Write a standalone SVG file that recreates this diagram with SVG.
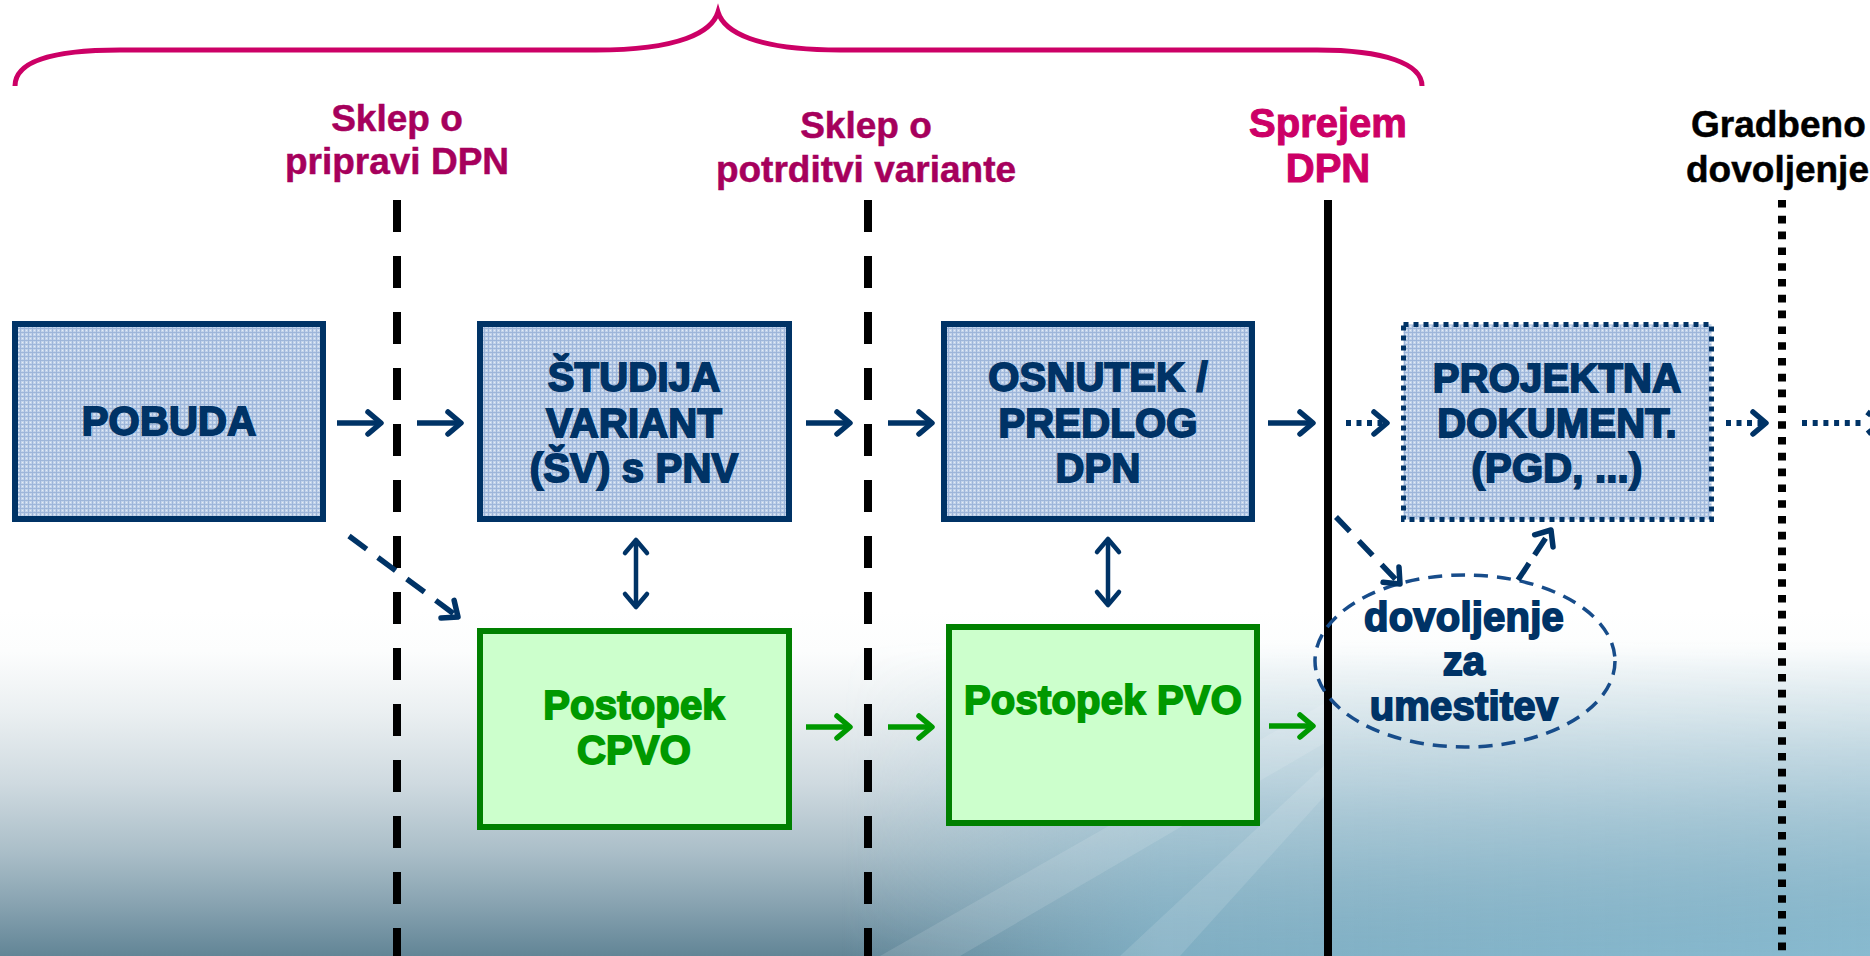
<svg xmlns="http://www.w3.org/2000/svg" width="1870" height="956" viewBox="0 0 1870 956">
<style>
.lbl{font-family:"Liberation Sans",Arial,sans-serif;font-weight:bold;text-anchor:middle}
.top1{font-size:37px;fill:#A6005C;stroke:#A6005C;stroke-width:0.5px}
.top2{font-size:40px;fill:#CC0066;stroke:#CC0066;stroke-width:1px}
.top3{font-size:37px;fill:#000;stroke:#000;stroke-width:0.5px;text-anchor:start}
.nav{font-size:40px;fill:#003366;stroke:#003366;stroke-width:1.8px;letter-spacing:0.2px}
.grn{font-size:40px;fill:#009900;stroke:#009900;stroke-width:1.8px;letter-spacing:0.2px}
.blueBox{fill:url(#grid);stroke:#003366;stroke-width:6}
.dotBox{fill:url(#grid);stroke:#003366;stroke-width:5;stroke-dasharray:5 5}
.greenBox{fill:#CCFFCC;stroke:#008000;stroke-width:6}
.arr{fill:none;stroke:#003366;stroke-width:5.5;marker-end:url(#hNavy)}
.arrG{fill:none;stroke:#009900;stroke-width:5.5;marker-end:url(#hGreen)}
.arrDot{fill:none;stroke:#003366;stroke-width:6;stroke-dasharray:5 5.5;marker-end:url(#hNavy)}
.arrDash{fill:none;stroke:#003366;stroke-width:5.5;stroke-dasharray:22 14;marker-end:url(#hNavy)}
.dbl{fill:none;stroke:#003366;stroke-width:4.5;marker-start:url(#hNavyS);marker-end:url(#hNavyS)}
</style>
<defs>
<pattern id="grid" width="4" height="4" patternUnits="userSpaceOnUse">
<rect width="4" height="4" fill="#C2D3EA"/>
<rect width="4" height="1" fill="#9EB6DA"/>
<rect width="1" height="4" fill="#9EB6DA"/>
<rect x="2" y="2" width="1" height="1" fill="#E4ECF7"/>
</pattern>
<linearGradient id="bgV" x1="0" y1="610" x2="0" y2="956" gradientUnits="userSpaceOnUse">
<stop offset="0" stop-color="#FFFFFF"/>
<stop offset="0.12" stop-color="#FCFDFD"/>
<stop offset="0.3" stop-color="#EAEFF1"/>
<stop offset="0.5" stop-color="#CFDAE0"/>
<stop offset="0.7" stop-color="#AABEC8"/>
<stop offset="0.85" stop-color="#88A3B1"/>
<stop offset="1" stop-color="#628596"/>
</linearGradient>
<linearGradient id="bgH" x1="0" y1="0" x2="1870" y2="0" gradientUnits="userSpaceOnUse">
<stop offset="0" stop-color="#8CC0D6" stop-opacity="0"/>
<stop offset="0.45" stop-color="#8CC0D6" stop-opacity="0"/>
<stop offset="0.62" stop-color="#8CC0D6" stop-opacity="0.7"/>
<stop offset="1" stop-color="#8CC0D6" stop-opacity="0.9"/>
</linearGradient>
<linearGradient id="fadeV" x1="0" y1="640" x2="0" y2="956" gradientUnits="userSpaceOnUse">
<stop offset="0" stop-color="#000"/>
<stop offset="1" stop-color="#fff"/>
</linearGradient>
<mask id="fadeMask"><rect x="0" y="600" width="1870" height="356" fill="url(#fadeV)"/></mask>
<marker id="hNavy" markerUnits="userSpaceOnUse" viewBox="-20 -16 26 32" markerWidth="26" markerHeight="32" refX="0" refY="0" orient="auto" overflow="visible">
<path d="M-13,-11 L0,0 L-13,11" fill="none" stroke="#003366" stroke-width="5.5" stroke-linecap="round" stroke-linejoin="round" stroke-dasharray="none"/>
</marker>
<marker id="hNavyS" markerUnits="userSpaceOnUse" viewBox="-20 -16 26 32" markerWidth="26" markerHeight="32" refX="0" refY="0" orient="auto-start-reverse" overflow="visible">
<path d="M-13,-11 L0,0 L-13,11" fill="none" stroke="#003366" stroke-width="4.5" stroke-linecap="round" stroke-linejoin="round"/>
</marker>
<marker id="hGreen" markerUnits="userSpaceOnUse" viewBox="-20 -16 26 32" markerWidth="26" markerHeight="32" refX="0" refY="0" orient="auto" overflow="visible">
<path d="M-13,-11 L0,0 L-13,11" fill="none" stroke="#009900" stroke-width="5.5" stroke-linecap="round" stroke-linejoin="round"/>
</marker>
</defs>

<g id="background">
<rect x="0" y="0" width="1870" height="956" fill="#FFFFFF"/>
<rect x="0" y="610" width="1870" height="346" fill="url(#bgV)"/>
<rect x="0" y="600" width="1870" height="356" fill="url(#bgH)" mask="url(#fadeMask)"/>
<polygon points="880,956 960,956 1330,740 1330,700" fill="#FFFFFF" opacity="0.12"/>
<polygon points="1120,956 1180,956 1330,790 1330,760" fill="#FFFFFF" opacity="0.12"/>
</g>

<g id="brace">
<path d="M15,86 C15,62 50,50 120,50 L596,50 C680,50 712,32 718,12 C724,32 756,50 840,50 L1317,50 C1385,50 1422,64 1422,86" fill="none" stroke="#CC0066" stroke-width="5"/>
</g>

<g id="milestones">
<line x1="397" y1="200" x2="397" y2="956" stroke="#000" stroke-width="8" stroke-dasharray="32 24"/>
<line x1="868" y1="200" x2="868" y2="956" stroke="#000" stroke-width="8" stroke-dasharray="32 24"/>
<line x1="1328" y1="200" x2="1328" y2="956" stroke="#000" stroke-width="8"/>
<line x1="1782" y1="200" x2="1782" y2="956" stroke="#000" stroke-width="8" stroke-dasharray="7.6 8.2"/>
</g>

<g id="label-sklep-priprava">
<text class="lbl top1" x="397" y="131">Sklep o</text>
<text class="lbl top1" x="397" y="174">pripravi DPN</text>
</g>
<g id="label-sklep-varianta">
<text class="lbl top1" x="866" y="138">Sklep o</text>
<text class="lbl top1" x="866" y="182">potrditvi variante</text>
</g>
<g id="label-sprejem">
<text class="lbl top2" x="1328" y="137">Sprejem</text>
<text class="lbl top2" x="1328" y="182">DPN</text>
</g>
<g id="label-gradbeno">
<text class="lbl top3" x="1691" y="137">Gradbeno</text>
<text class="lbl top3" x="1686" y="182">dovoljenje</text>
</g>

<g id="node-pobuda">
<rect class="blueBox" x="15" y="324" width="308" height="195"/>
<text class="lbl nav" x="169" y="435">POBUDA</text>
</g>
<g id="node-studija">
<rect class="blueBox" x="480" y="324" width="309" height="195"/>
<text class="lbl nav" x="634" y="391">ŠTUDIJA</text>
<text class="lbl nav" x="634" y="437">VARIANT</text>
<text class="lbl nav" x="634" y="482">(ŠV) s PNV</text>
</g>
<g id="node-osnutek">
<rect class="blueBox" x="944" y="324" width="308" height="195"/>
<text class="lbl nav" x="1098" y="391">OSNUTEK /</text>
<text class="lbl nav" x="1098" y="437">PREDLOG</text>
<text class="lbl nav" x="1098" y="482">DPN</text>
</g>
<g id="node-projektna">
<rect class="dotBox" x="1403.5" y="324.5" width="308" height="195"/>
<text class="lbl nav" x="1557" y="392">PROJEKTNA</text>
<text class="lbl nav" x="1557" y="437">DOKUMENT.</text>
<text class="lbl nav" x="1557" y="482">(PGD, ...)</text>
</g>
<g id="node-cpvo">
<rect class="greenBox" x="480" y="631" width="309" height="196"/>
<text class="lbl grn" x="634" y="719">Postopek</text>
<text class="lbl grn" x="634" y="764">CPVO</text>
</g>
<g id="node-pvo">
<rect class="greenBox" x="949" y="627" width="308" height="196"/>
<text class="lbl grn" x="1103" y="714">Postopek PVO</text>
</g>
<g id="node-dovoljenje">
<ellipse cx="1465" cy="661" rx="150" ry="86" fill="none" stroke="#174C8A" stroke-width="3.5" stroke-dasharray="14 9"/>
<text class="lbl nav" x="1464" y="631">dovoljenje</text>
<text class="lbl nav" x="1464" y="675">za</text>
<text class="lbl nav" x="1464" y="720">umestitev</text>
</g>

<g id="connectors">
<path class="arr" d="M337,423 L381,423"/>
<path class="arr" d="M417,423 L461,423"/>
<path class="arr" d="M806,423 L850,423"/>
<path class="arr" d="M888,423 L932,423"/>
<path class="arr" d="M1268,423 L1313,423"/>
<path class="arrDot" d="M1346,423 L1387,423"/>
<path class="arrDot" d="M1726,423 L1766,423"/>
<path d="M1802,423 L1864,423" fill="none" stroke="#003366" stroke-width="6" stroke-dasharray="5 5.7"/>
<path d="M1867,412 L1881,423 L1867,434" fill="none" stroke="#003366" stroke-width="5.5" stroke-dasharray="5 5"/>
<path class="dbl" d="M636,540 L636,607"/>
<path class="dbl" d="M1108,539 L1108,605"/>
<path class="arrDash" d="M349,536 L458,617"/>
<path class="arrDash" style="stroke-dasharray:20 13" d="M1336,517 L1400,584"/>
<path class="arrDash" style="stroke-dasharray:20 10" d="M1518,580 L1551,530"/>
<path class="arrG" d="M806,727 L850,727"/>
<path class="arrG" d="M888,727 L932,727"/>
<path class="arrG" d="M1269,726 L1313,726"/>
</g>
</svg>
